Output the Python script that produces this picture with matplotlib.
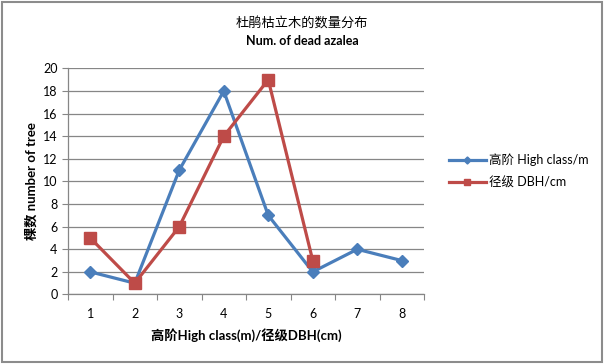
import matplotlib.pyplot as plt
from matplotlib.patches import Rectangle

plt.rcParams['font.family'] = ['Lato', 'Noto Sans CJK SC', 'DejaVu Sans']

# data
classes = [1, 2, 3, 4, 5, 6, 7, 8]
high_class = [2, 1, 11, 18, 7, 2, 4, 3]
dbh_classes = [1, 2, 3, 4, 5, 6]
dbh_counts = [5, 1, 6, 14, 19, 3]
y_ticks = [0, 2, 4, 6, 8, 10, 12, 14, 16, 18, 20]

blue = '#4A7EBB'
red = '#BE4B48'
grid_col = '#868686'

fig = plt.figure(figsize=(6.04, 3.64), dpi=100)
ax = fig.add_axes([0.1126, 0.191, 0.5894, 0.621])

ax.plot(classes, high_class, color=blue, lw=2.3, marker='D', ms=6.5,
        label='高阶 High class/m', zorder=3)
ax.plot(dbh_classes, dbh_counts, color=red, lw=2.3, marker='s', ms=8,
        label='径级 DBH/cm', zorder=4)

ax.set_xlim(0.5, 8.5)
ax.set_ylim(0, 20)
ax.set_yticks(y_ticks)
ax.yaxis.grid(True, color=grid_col, lw=0.9)
ax.set_axisbelow(True)

# category axis: tick marks between categories, labels on categories
ax.set_xticks([i + 0.5 for i in range(0, 9)])
ax.set_xticklabels([])
ax.set_xticks(classes, minor=True)
ax.set_xticklabels([str(c) for c in classes], minor=True)
ax.tick_params(axis='x', which='major', length=4, color=grid_col, direction='out')
ax.tick_params(axis='x', which='minor', length=0, pad=10, labelsize=9)
ax.tick_params(axis='y', length=4, color=grid_col, labelsize=9)

for s in ['top', 'right']:
    ax.spines[s].set_visible(False)
for s in ['left', 'bottom']:
    ax.spines[s].set_color(grid_col)
    ax.spines[s].set_linewidth(0.9)

ax.set_xlabel('高阶High class(m)/径级DBH(cm)', fontsize=9.5, fontweight='bold', labelpad=6)
ax.set_ylabel('棵数 number of tree', fontsize=9.5, fontweight='bold', labelpad=4)

fig.text(0.5, 0.937, '杜鹃枯立木的数量分布', ha='center', va='center', fontsize=9.5)
fig.text(0.5, 0.887, 'Num. of dead azalea', ha='center', va='center', fontsize=9,
         fontweight='bold')

ax.legend(loc='upper left', bbox_to_anchor=(1.055, 0.645), frameon=False, fontsize=9,
          handlelength=3.0, handletextpad=0.2, labelspacing=0.8, borderaxespad=0,
          markerscale=0.55)

fig.patches.append(Rectangle((0.003, 0.005), 0.994, 0.99, transform=fig.transFigure,
                             fill=False, edgecolor='#8C8C8C', lw=1.5))

fig.savefig('out.png', dpi=100)
